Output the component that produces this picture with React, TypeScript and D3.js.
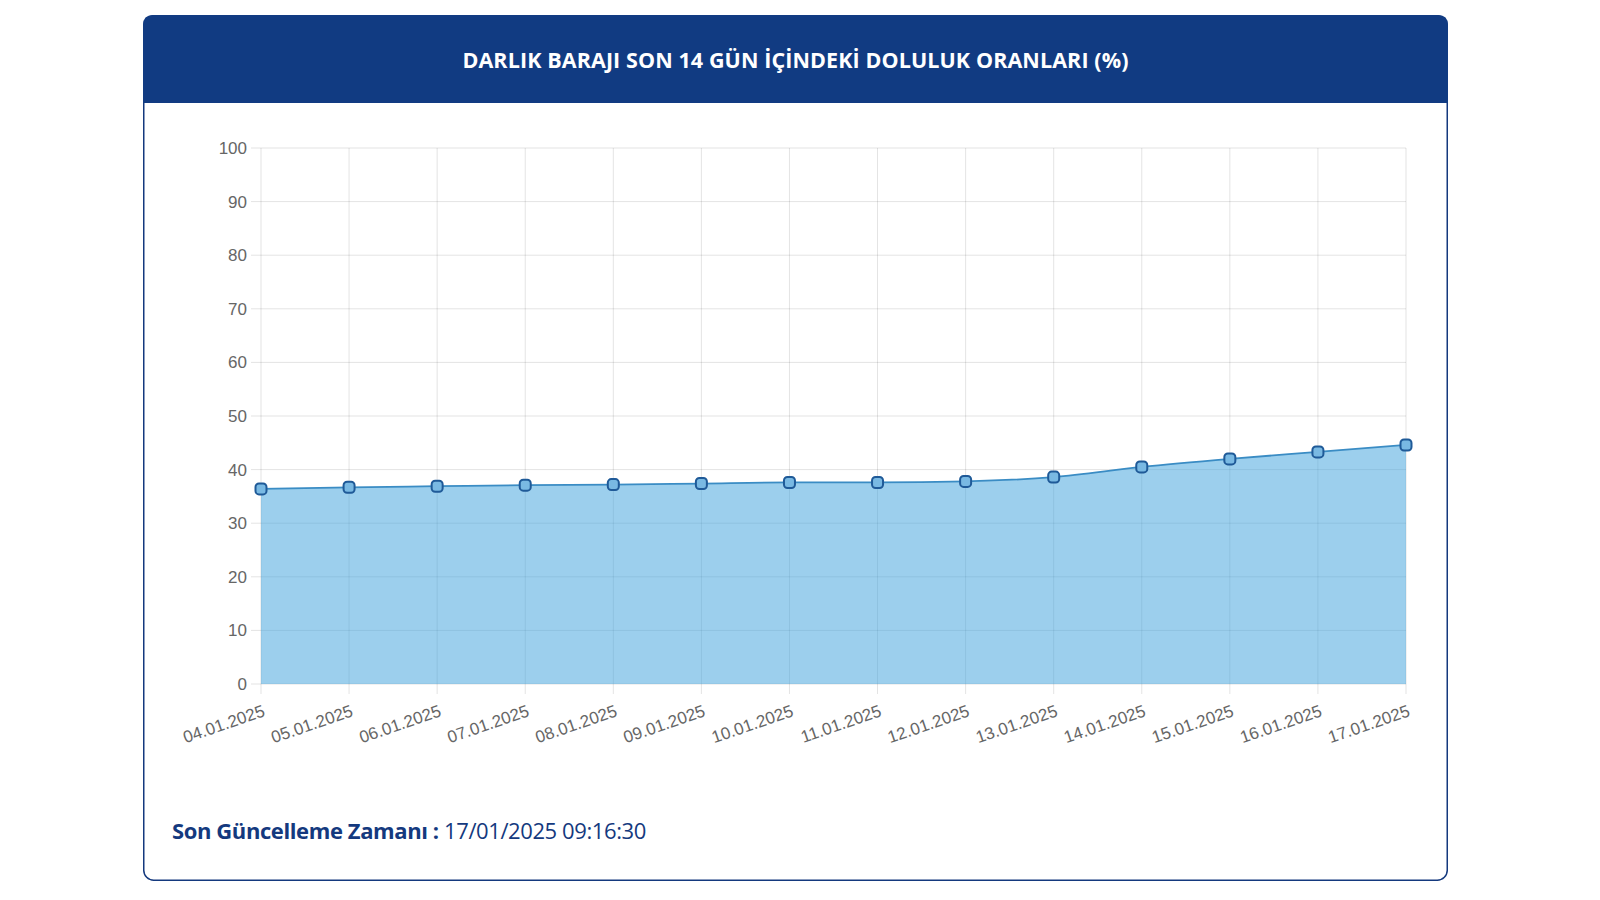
import React from "react";
import * as d3 from "d3";

const dates = [
  "04.01.2025", "05.01.2025", "06.01.2025", "07.01.2025", "08.01.2025",
  "09.01.2025", "10.01.2025", "11.01.2025", "12.01.2025", "13.01.2025",
  "14.01.2025", "15.01.2025", "16.01.2025", "17.01.2025",
];
const fillRates = [36.4, 36.7, 36.9, 37.1, 37.2, 37.4, 37.6, 37.6, 37.8, 38.6, 40.5, 42.0, 43.3, 44.6];
const yTicks = [0, 10, 20, 30, 40, 50, 60, 70, 80, 90, 100];
const title = "DARLIK BARAJI SON 14 GÜN İÇİNDEKİ DOLULUK ORANLARI (%)";
const footerLabel = "Son Güncelleme Zamanı :";
const footerValue = " 17/01/2025 09:16:30";

const W = 1600;
const H = 900;
const card = { x: 143, y: 15, w: 1305, h: 866, header: 88, r: 10 };
const plot = { left: 261, right: 1406, top: 148, bottom: 684 };

export default function App() {
  const x = d3.scalePoint<string>().domain(dates).range([plot.left, plot.right]);
  const y = d3.scaleLinear().domain([0, 100]).range([plot.bottom, plot.top]);

  const pts = dates.map((d, i) => ({ d, v: fillRates[i] }));
  const line = d3.line<{ d: string; v: number }>().x((p) => x(p.d)!).y((p) => y(p.v)).curve(d3.curveMonotoneX);
  const area = d3
    .area<{ d: string; v: number }>()
    .x((p) => x(p.d)!)
    .y0(y(0))
    .y1((p) => y(p.v))
    .curve(d3.curveMonotoneX);

  const hdrPath = `M${card.x},${card.y + card.header} V${card.y + card.r} Q${card.x},${card.y} ${card.x + card.r},${card.y} H${card.x + card.w - card.r} Q${card.x + card.w},${card.y} ${card.x + card.w},${card.y + card.r} V${card.y + card.header} Z`;

  const tickFont = "'Liberation Sans', Arial, sans-serif";
  const ps = 11;

  return (
    <svg width={W} height={H} style={{ position: "absolute", left: 0, top: 0, background: "#fff" }}>
      <rect x={card.x + 0.75} y={card.y + 0.75} width={card.w - 1.5} height={card.h - 1.5} rx={card.r} fill="#fff" stroke="#14397e" strokeWidth={1.5} />
      <path d={hdrPath} fill="#113b82" />
      <text x={card.x + card.w / 2} y={card.y + 53} textAnchor="middle" fill="#fff" fontFamily="'Open Sans', sans-serif" fontWeight={700} fontSize={21.5} letterSpacing={0.1}>
        {title}
      </text>

      {/* grid */}
      {yTicks.map((t) => (
        <g key={"y" + t}>
          <line x1={plot.left - 10} x2={plot.right} y1={y(t)} y2={y(t)} stroke="rgba(0,0,0,0.11)" strokeWidth={1} />
          <text x={plot.left - 14} y={y(t)} dy="0.35em" textAnchor="end" fill="#666" fontFamily={tickFont} fontSize={17}>
            {t}
          </text>
        </g>
      ))}
      {dates.map((d) => (
        <g key={"x" + d}>
          <line x1={x(d)} x2={x(d)} y1={plot.top} y2={plot.bottom + 10} stroke="rgba(0,0,0,0.11)" strokeWidth={1} />
          <text
            transform={`translate(${x(d)! + 3},${plot.bottom + 26}) rotate(-19)`}
            textAnchor="end"
            dy="0.35em"
            fill="#666"
            fontFamily={tickFont}
            fontSize={17}
          >
            {d}
          </text>
        </g>
      ))}

      <path d={area(pts)!} fill="rgba(58,160,220,0.5)" />
      <path d={line(pts)!} fill="none" stroke="#3a8cc4" strokeWidth={1.8} />
      {pts.map((p) => (
        <rect
          key={"p" + p.d}
          x={x(p.d)! - ps / 2}
          y={y(p.v) - ps / 2}
          width={ps}
          height={ps}
          rx={3.5}
          fill="#79b9e3"
          stroke="#1f5a98"
          strokeWidth={2}
        />
      ))}

      <text x={172} y={839} fontFamily="'Open Sans', sans-serif" fontSize={22} fill="#14397e">
        <tspan fontWeight={700} letterSpacing={-0.4}>{footerLabel}</tspan>
        <tspan fontWeight={400} letterSpacing={-0.4}>{footerValue}</tspan>
      </text>
    </svg>
  );
}
